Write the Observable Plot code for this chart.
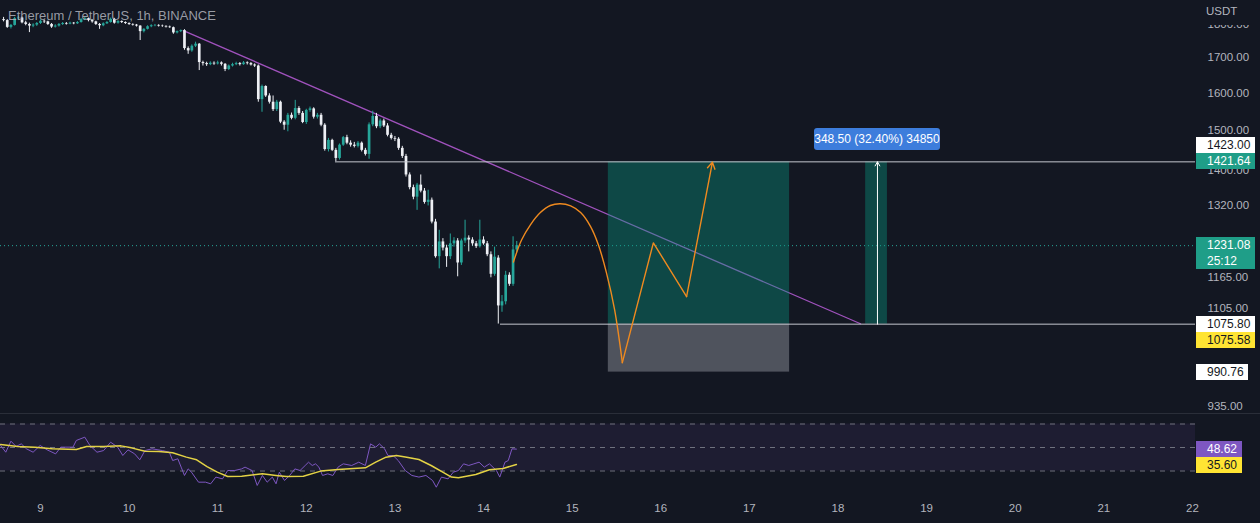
<!DOCTYPE html>
<html>
<head>
<meta charset="utf-8">
<script src="https://cdn.jsdelivr.net/npm/d3@7"></script>
<script src="https://cdn.jsdelivr.net/npm/@observablehq/plot@0.6"></script>
<style>
  html, body { margin:0; padding:0; background:#131722; }
  #wrap { position:relative; width:1260px; height:523px; background:#131722; overflow:hidden; font-family:"Liberation Sans", Arial, sans-serif; }
  #wrap svg { position:absolute; left:0; }
  .tag { position:absolute; left:1196px; box-sizing:border-box; padding-left:11px; font-size:12px; line-height:16px; white-space:nowrap; }
  .title { position:absolute; left:8px; top:8px; font-size:13px; line-height:16px; color:rgba(178,181,190,0.85); white-space:nowrap; }
  .unit { position:absolute; left:1196px; top:0; width:64px; height:25px; background:#131722; box-sizing:border-box; padding-left:10px; padding-top:5px; font-size:11.5px; color:#b2b5be; }
  .sep { position:absolute; left:0; top:413px; width:1260px; height:1px; background:#2a2e39; }
  .measure { position:absolute; height:22px; line-height:22px; font-size:12px; color:#ffffff; background:#3d7ddc; border-radius:3px; text-align:center; white-space:nowrap; }
</style>
</head>
<body>
<div id="wrap"></div>
<script>
// ---------- data ----------
const titleText = "Ethereum / TetherUS, 1h, BINANCE";
const unitText = "USDT";
const firstHour = -10; // hours relative to day 9 00:00
const opens = [
  1815,1812,1791,1797,1818,1820,1805,1800,1795,1798,
  1803,1810,1808,1800,1792,1795,1800,1803,1801,1804,
  1802,1806,1815,1818,1812,1808,1800,1796,1802,1806,
  1816,1804,1809,1806,1803,1800,1798,1795,1778,1785,
  1793,1796,1797,1795,1794,1792,1790,1774,1778,1781,
  1727,1720,1734,1740,1686,1683,1680,1684,1682,1685,
  1681,1666,1676,1680,1683,1680,1685,1683,1679,1676,
  1582,1618,1592,1575,1555,1575,1522,1514,1540,1532,
  1558,1545,1521,1553,1557,1535,1540,1514,1452,1475,
  1450,1430,1463,1482,1468,1463,1460,1468,1450,1440,
  1515,1537,1510,1525,1512,1488,1480,1478,1455,1435,
  1390,1360,1338,1366,1352,1326,1331,1282,1208,1239,
  1226,1208,1235,1241,1195,1241,1247,1243,1235,1229,
  1243,1235,1212,1172,1205,1110,1118,1170,1152,1222
];
const highs = [
  1822,1815,1800,1822,1826,1823,1810,1804,1802,1806,
  1814,1813,1810,1803,1799,1803,1806,1806,1807,1806,
  1809,1818,1822,1820,1815,1810,1803,1805,1809,1820,
  1819,1812,1811,1808,1805,1802,1800,1796,1787,1796,
  1799,1800,1799,1798,1796,1795,1792,1780,1783,1784,
  1732,1738,1746,1742,1690,1687,1688,1688,1690,1688,
  1683,1679,1684,1687,1686,1689,1688,1686,1682,1679,
  1622,1620,1598,1592,1580,1578,1526,1545,1546,1580,
  1563,1550,1556,1562,1560,1545,1545,1518,1480,1478,
  1455,1466,1485,1488,1474,1470,1472,1471,1455,1520,
  1551,1545,1530,1530,1518,1493,1485,1482,1460,1440,
  1395,1366,1370,1390,1358,1354,1336,1288,1264,1246,
  1232,1256,1248,1246,1245,1286,1252,1248,1240,1286,
  1250,1240,1218,1228,1210,1130,1178,1175,1250,1240
];
const lows = [
  1808,1788,1786,1795,1812,1802,1796,1775,1790,1794,
  1800,1803,1797,1788,1789,1792,1797,1798,1799,1799,
  1800,1804,1812,1808,1804,1797,1785,1793,1800,1804,
  1801,1801,1803,1800,1797,1795,1792,1751,1774,1783,
  1790,1793,1792,1791,1789,1788,1770,1771,1775,1722,
  1710,1716,1730,1663,1676,1675,1677,1678,1679,1676,
  1660,1663,1673,1677,1676,1678,1679,1676,1672,1575,
  1548,1588,1570,1550,1550,1518,1501,1497,1528,1528,
  1540,1518,1516,1548,1530,1530,1510,1448,1446,1447,
  1422,1426,1460,1464,1458,1456,1456,1446,1436,1428,
  1510,1505,1505,1508,1484,1476,1472,1450,1430,1385,
  1355,1332,1308,1348,1322,1318,1278,1205,1183,1220,
  1186,1202,1228,1167,1190,1236,1218,1230,1225,1226,
  1232,1208,1165,1168,1076,1098,1112,1148,1148,1216
];
const closes = [
  1812,1791,1797,1818,1820,1805,1800,1795,1798,1803,
  1810,1808,1800,1792,1795,1800,1803,1801,1804,1802,
  1806,1815,1818,1812,1808,1800,1796,1802,1806,1816,
  1804,1809,1806,1803,1800,1798,1795,1778,1785,1793,
  1796,1797,1795,1794,1792,1790,1774,1778,1781,1727,
  1720,1734,1740,1686,1683,1680,1684,1682,1685,1681,
  1666,1676,1680,1683,1680,1685,1683,1679,1676,1582,
  1618,1592,1575,1555,1575,1522,1514,1540,1532,1558,
  1545,1521,1553,1557,1535,1540,1514,1452,1475,1450,
  1430,1463,1482,1468,1463,1460,1468,1450,1440,1515,
  1537,1510,1525,1512,1488,1480,1478,1455,1435,1390,
  1360,1338,1366,1352,1326,1331,1282,1208,1239,1226,
  1208,1235,1241,1195,1241,1247,1243,1235,1229,1243,
  1235,1212,1172,1207,1110,1118,1170,1152,1222,1231.08
];
const currentPrice = 1231.08;
const countdown = "25:12";
const priceTicks = [935, 1105, 1165, 1240, 1320, 1400, 1500, 1600, 1700, 1800];
const dayTicks = [0, 24, 48, 72, 96, 120, 144, 168, 192, 216, 240, 264, 288, 312];
const dayLabels = ["9","10","11","12","13","14","15","16","17","18","19","20","21","22"];
const trendPts = [[38.7, 1781], [222.1, 1076.6]];
const levelLines = [{price: 1421.64, from: 79.9}, {price: 1075.80, from: 124.6}];
const longBox = {start: 153.8, end: 202.9, entry: 1075.80, target: 1421.64, stop: 990.76};
const arcPts = [[128.1,1197],[130.3,1243],[132.7,1276],[135.4,1303],[138.1,1319],[140.8,1323],[143.6,1318],[146.3,1303],[149.0,1272],[151.1,1233],[153.3,1175],[155.5,1103],[157.6,1007]];
const zigPts = [[157.6,1007],[166.0,1237],[175.0,1128]];
const zigArrow = {x1: 175.0, y1: 1128, x2: 182.0, y2: 1421};
const measureBox = {start: 223.5, end: 229.4, from: 1075.80, to: 1421.64, mid: 226.7};
const measureText = "348.50 (32.40%) 34850";
const rsiLevels = [30, 50, 70];
const rsiPoints = [[-10.8,51.7],[-9.4,46.0],[-8.0,55.4],[-6.6,50.9],[-5.2,53.1],[-3.8,48.9],[-2.0,46.0],[-0.1,51.7],[1.8,48.0],[4.1,44.6],[5.5,50.3],[8.8,50.3],[9.7,56.0],[12.0,58.8],[13.4,51.7],[15.3,46.0],[17.1,47.4],[19.0,54.5],[20.9,50.3],[22.3,43.2],[23.7,48.0],[25.5,44.6],[26.9,39.5],[28.3,47.4],[30.2,48.9],[33.0,47.4],[34.9,46.0],[35.8,38.9],[37.2,40.4],[38.1,33.3],[39.0,26.2],[40.0,31.8],[40.9,29.0],[42.8,20.5],[44.7,20.5],[46.1,19.1],[47.5,24.8],[49.3,23.3],[50.7,30.4],[52.6,30.4],[54.5,31.8],[55.4,33.3],[57.3,30.4],[58.7,17.7],[60.1,26.2],[61.4,20.5],[62.8,24.8],[63.8,19.1],[64.7,29.0],[66.1,21.9],[67.5,26.2],[68.9,31.8],[70.3,30.4],[71.7,34.7],[72.6,37.5],[73.6,34.7],[74.5,36.1],[75.4,33.3],[76.4,26.2],[77.8,27.6],[79.2,26.2],[80.6,33.3],[82.0,36.1],[84.3,34.7],[86.2,37.5],[88.0,34.7],[89.4,53.1],[90.8,50.3],[91.8,53.1],[93.2,48.9],[94.1,43.2],[95.5,43.2],[96.9,38.9],[98.8,30.4],[100.6,26.2],[102.5,24.8],[104.4,26.2],[106.2,21.9],[107.2,16.2],[108.6,24.8],[110.4,23.3],[111.8,29.0],[113.2,30.4],[114.6,36.1],[116.0,34.7],[117.4,36.1],[118.8,37.5],[120.2,33.3],[121.6,36.1],[123.5,30.4],[124.4,24.8],[125.8,37.5],[126.7,38.9],[127.7,48.9],[128.9,48.62]];
const maPoints = [[-10.8,52.6],[-6.2,50.9],[-1.5,50.3],[3.2,48.9],[9.7,48.3],[12.5,50.9],[17.1,50.9],[21.8,51.4],[24.6,49.7],[28.3,46.9],[32.1,46.6],[35.8,45.5],[39.5,41.8],[42.3,39.5],[45.1,33.8],[47.9,29.0],[50.7,25.3],[54.5,25.6],[60.1,27.6],[63.8,26.2],[66.6,25.3],[71.2,25.6],[75.9,29.9],[80.6,31.3],[88.0,32.7],[90.8,37.5],[93.6,41.8],[96.4,43.2],[99.2,41.8],[102.5,39.8],[105.8,34.7],[108.6,29.6],[111.3,24.8],[113.2,24.2],[117.9,27.0],[121.6,31.0],[125.3,32.1],[128.9,35.6]];
const rsiLast = 48.62, maLast = 35.60;

// ---------- styling ----------
const upColor = "#26a69a", downColor = "#eef0f5";
const axisColor = "#b2b5be";
const xDomain = [-10.83, 312.84];
const priceDomain = [921.2, 1875.6];
const rsiDomain = [13.4, 78.1];
const font = "Liberation Sans, Arial, sans-serif";

const candles = closes.map((c, i) => ({h: firstHour + i, o: opens[i], hi: highs[i], lo: lows[i], c, col: c >= opens[i] ? upColor : downColor}));
const px = d => d[0], py = d => d[1];

const main = Plot.plot({
  width: 1260, height: 414,
  marginLeft: 0, marginRight: 65, marginTop: 0, marginBottom: 0,
  style: {background: "transparent", color: axisColor, fontFamily: font, overflow: "visible"},
  x: {domain: xDomain, axis: null},
  y: {type: "log", domain: priceDomain, axis: null},
  marks: [
    Plot.axisY(priceTicks, {anchor: "right", tickSize: 0, tickPadding: 12, tickFormat: d => d.toFixed(2), fontSize: 11.5, fill: axisColor, label: null}),
    Plot.ruleY([currentPrice], {stroke: upColor, strokeDasharray: "1,3", strokeWidth: 1}),
    Plot.line(trendPts, {x: px, y: py, stroke: "#a052bd", strokeWidth: 1.3}),
    Plot.ruleX(candles, {x: "h", y1: "lo", y2: "hi", stroke: "col", strokeWidth: 1}),
    Plot.ruleX(candles, {x: "h", y1: "o", y2: "c", stroke: "col", strokeWidth: 2.7}),
    Plot.rect([longBox], {x1: "start", x2: "end", y1: "entry", y2: "target", fill: "#089981", fillOpacity: 0.38}),
    Plot.rect([longBox], {x1: "start", x2: "end", y1: "stop", y2: "entry", fill: "#787b86", fillOpacity: 0.6}),
    Plot.rect([measureBox], {x1: "start", x2: "end", y1: "from", y2: "to", fill: "#089981", fillOpacity: 0.38}),
    Plot.ruleY(levelLines, {y: "price", x1: "from", x2: xDomain[1], stroke: "#c4c7cf", strokeWidth: 1}),
    Plot.line(arcPts, {x: px, y: py, curve: "catmull-rom", stroke: "#ef8a1f", strokeWidth: 1.4}),
    Plot.line(zigPts, {x: px, y: py, stroke: "#ef8a1f", strokeWidth: 1.4}),
    Plot.arrow([zigArrow], {x1: "x1", y1: "y1", x2: "x2", y2: "y2", stroke: "#ef8a1f", strokeWidth: 1.4, headLength: 8}),
    Plot.arrow([measureBox], {x1: "mid", y1: "from", x2: "mid", y2: "to", stroke: "#ffffff", strokeWidth: 1, headLength: 7})
  ]
});

const rsi = Plot.plot({
  width: 1260, height: 109,
  marginLeft: 0, marginRight: 65, marginTop: 0, marginBottom: 33,
  style: {background: "transparent", color: axisColor, fontFamily: font, overflow: "visible"},
  x: {domain: xDomain, axis: null},
  y: {domain: rsiDomain, axis: null},
  marks: [
    Plot.rect([{lo: rsiLevels[0], hi: rsiLevels[2]}], {y1: "lo", y2: "hi", fill: "#7e57c2", fillOpacity: 0.1}),
    Plot.ruleY(rsiLevels, {stroke: "#787b86", strokeDasharray: "5,5", strokeOpacity: 0.9}),
    Plot.line(rsiPoints, {x: px, y: py, stroke: "#7e57c2", strokeWidth: 1}),
    Plot.line(maPoints, {x: px, y: py, stroke: "#e3d245", strokeWidth: 1.5}),
    Plot.axisX(dayTicks, {anchor: "bottom", tickSize: 0, tickPadding: 13, tickFormat: d => dayLabels[dayTicks.indexOf(d)], fontSize: 11.5, fill: axisColor, label: null})
  ]
});

const wrap = document.getElementById("wrap");
main.style.top = "0px";
rsi.style.top = "414px";
wrap.appendChild(main);
wrap.appendChild(rsi);

function scaleFn(chart, name) {
  const s = chart.scale(name);
  if (s && typeof s.apply === "function") return v => s.apply(v);
  const sc = s.type === "log" ? d3.scaleLog() : d3.scaleLinear();
  return sc.domain(s.domain).range(s.range);
}
const yMain = scaleFn(main, "y");
const yRsi = scaleFn(rsi, "y");
const xMain = scaleFn(main, "x");

function addDiv(cls, html, css) {
  const d = document.createElement("div");
  d.className = cls;
  d.innerHTML = html;
  Object.assign(d.style, css);
  wrap.appendChild(d);
  return d;
}

addDiv("sep", "", {});
addDiv("title", titleText, {});
addDiv("unit", unitText, {});

// price tags
const tTarget = yMain(1421.64) - 8;
addDiv("tag", "1423.00", {top: (tTarget - 16) + "px", height: "16px", width: "59px", background: "#ffffff", color: "#131722"});
addDiv("tag", "1421.64", {top: tTarget + "px", height: "16px", width: "59px", background: "#1f9e88", color: "#ffffff"});
const tCur = yMain(currentPrice) - 8;
addDiv("tag", currentPrice.toFixed(2) + "<br>" + countdown, {top: tCur + "px", height: "32px", width: "59px", background: "#1f9e88", color: "#ffffff"});
const tEntry = yMain(1075.80) - 8;
addDiv("tag", "1075.80", {top: tEntry + "px", height: "16px", width: "59px", background: "#ffffff", color: "#131722"});
addDiv("tag", "1075.58", {top: (tEntry + 16) + "px", height: "16px", width: "59px", background: "#ffe433", color: "#131722"});
addDiv("tag", "990.76", {top: (yMain(990.76) - 8) + "px", height: "16px", width: "52px", background: "#ffffff", color: "#131722"});
const tRsi = 414 + yRsi(rsiLast) - 8;
addDiv("tag", rsiLast.toFixed(2), {top: tRsi + "px", height: "16px", width: "46px", background: "#7e57c2", color: "#ffffff"});
addDiv("tag", maLast.toFixed(2), {top: (tRsi + 16) + "px", height: "16px", width: "46px", background: "#ffe433", color: "#131722"});

// measurement label
const mx = xMain(measureBox.mid);
addDiv("measure", measureText, {left: (mx - 63) + "px", width: "126px", top: (yMain(measureBox.to) - 33) + "px"});
</script>
</body>
</html>
